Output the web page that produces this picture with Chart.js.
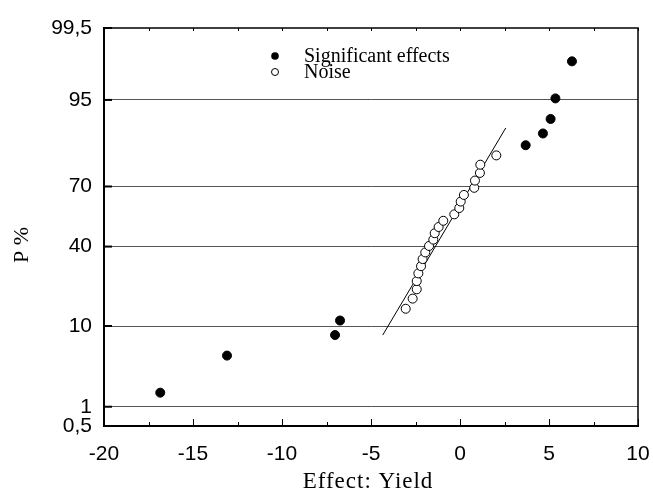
<!DOCTYPE html>
<html>
<head>
<meta charset="utf-8">
<script src="https://cdn.jsdelivr.net/npm/chart.js@4"></script>
<style>
body { margin: 0; background: #fff; }
#wrap { width: 653px; height: 497px; }
</style>
</head>
<body>
<div id="wrap"><canvas id="chart" width="653" height="497"></canvas></div>
<script>
// effects (x = effect, P = cumulative probability %)
var sigX = [-16.84, -13.09, -7.02, -6.74, 3.69, 4.66, 5.09, 5.36, 6.29];
var sigP = [1.6, 4.8, 8.1, 11.3, 85.5, 88.7, 91.9, 95.2, 98.4];
var noiseX = [-3.05, -2.66, -2.43, -2.43, -2.34, -2.19, -2.10, -1.95, -1.74, -1.50, -1.42,
              -1.20, -0.94, -0.32, -0.04, 0.04, 0.22, 0.80, 0.84, 1.12, 1.14, 2.04];
var noiseP = [14.5, 17.7, 21.0, 24.2, 27.4, 30.6, 33.9, 37.1, 40.3, 43.5, 46.8,
              50.0, 53.2, 56.5, 59.7, 62.9, 66.1, 69.4, 72.6, 75.8, 79.0, 82.3];
var lineX = [-4.34, 2.57];
var lineP = [8.1, 90.0];
var yTicks = [0.5, 1, 10, 40, 70, 95, 99.5];
var yTickLabels = ["0,5", "1", "10", "40", "70", "95", "99,5"];
var legendLabels = ["Significant effects", "Noise"];
var xTitle = "Effect: Yield";
var yTitle = "P %";

// inverse normal cdf (Acklam), used for the probability axis
function probit(p) {
    var a = [-39.69683028665376, 220.9460984245205, -275.9285104469687, 138.3577518672690, -30.66479806614716, 2.506628277459239];
    var b = [-54.47609879822406, 161.5858368580409, -155.6989798598866, 66.80131188771972, -13.28068155288572];
    var c = [-0.007784894002430293, -0.3223964580411365, -2.400758277161838, -2.549671348283915, 4.374664141464968, 2.938163982698783];
    var d = [0.007784695709041462, 0.3224671290700398, 2.445134137142996, 3.754408661907416];
    var plow = 0.02425, q, r;
    if (p < plow) {
        q = Math.sqrt(-2 * Math.log(p));
        return (((((c[0] * q + c[1]) * q + c[2]) * q + c[3]) * q + c[4]) * q + c[5]) / ((((d[0] * q + d[1]) * q + d[2]) * q + d[3]) * q + 1);
    }
    if (p <= 1 - plow) {
        q = p - 0.5; r = q * q;
        return (((((a[0] * r + a[1]) * r + a[2]) * r + a[3]) * r + a[4]) * r + a[5]) * q / (((((b[0] * r + b[1]) * r + b[2]) * r + b[3]) * r + b[4]) * r + 1);
    }
    q = Math.sqrt(-2 * Math.log(1 - p));
    return -(((((c[0] * q + c[1]) * q + c[2]) * q + c[3]) * q + c[4]) * q + c[5]) / ((((d[0] * q + d[1]) * q + d[2]) * q + d[3]) * q + 1);
}
function z(pct) { return probit(pct / 100); }
function toPoints(xs, ps) {
    return xs.map(function (x, i) { return { x: x, y: z(ps[i]) }; });
}

var sansFont = "'Liberation Sans', Arial, sans-serif";
var serifFont = "'Liberation Serif', 'Times New Roman', serif";

// frame, inward tick marks, axis titles and the legend box
var decorations = {
    id: "decorations",
    afterDraw: function (chart) {
        var ctx = chart.ctx;
        var area = chart.chartArea;
        var xs = chart.scales.x;
        var ys = chart.scales.y;
        ctx.save();
        ctx.strokeStyle = "#000";
        ctx.lineWidth = 1.5;
        ctx.beginPath();
        ctx.moveTo(area.left, area.top);
        ctx.lineTo(area.right, area.top);
        ctx.lineTo(area.right, area.bottom);
        ctx.stroke();
        ctx.lineWidth = 1;
        for (var v = -20; v <= 10; v += 2.5) {
            var px = Math.round(xs.getPixelForValue(v)) + 0.5;
            var len = (v % 5 === 0) ? 7 : 4;
            ctx.beginPath();
            ctx.moveTo(px, area.bottom);
            ctx.lineTo(px, area.bottom - len);
            ctx.moveTo(px, area.top);
            ctx.lineTo(px, area.top + 3);
            ctx.stroke();
        }
        ctx.lineWidth = 2;
        yTicks.forEach(function (t) {
            var py = ys.getPixelForValue(z(t));
            ctx.beginPath();
            ctx.moveTo(area.left, py);
            ctx.lineTo(area.left + 8, py);
            ctx.stroke();
        });
        ctx.fillStyle = "#000";
        ctx.textBaseline = "middle";
        // legend
        var lx = area.left + 171, ly = area.top + 28;
        ctx.font = "20px " + serifFont;
        ctx.textAlign = "left";
        ctx.beginPath();
        ctx.arc(lx, ly, 3.8, 0, Math.PI * 2);
        ctx.fill();
        ctx.fillText(legendLabels[0], lx + 29, ly + 1);
        ctx.lineWidth = 1;
        ctx.beginPath();
        ctx.arc(lx, ly + 16, 3.5, 0, Math.PI * 2);
        ctx.stroke();
        ctx.fillText(legendLabels[1], lx + 29, ly + 17);
        // axis titles
        ctx.textAlign = "center";
        ctx.font = "23px " + serifFont;
        if ("letterSpacing" in ctx) ctx.letterSpacing = "1px";
        ctx.fillText(xTitle, (area.left + area.right) / 2 - 3, area.bottom + 56);
        if ("letterSpacing" in ctx) ctx.letterSpacing = "0px";
        ctx.font = "22px " + serifFont;
        ctx.translate(22, area.top + 217);
        ctx.rotate(-Math.PI / 2);
        ctx.fillText(yTitle, 0, 0);
        ctx.restore();
    }
};

var chart = new Chart(document.getElementById("chart").getContext("2d"), {
    type: "scatter",
    data: {
        datasets: [
            {
                label: legendLabels[0],
                data: toPoints(sigX, sigP),
                backgroundColor: "#000",
                borderColor: "#000",
                pointRadius: 4.5,
                order: 1
            },
            {
                label: legendLabels[1],
                data: toPoints(noiseX, noiseP),
                backgroundColor: "#fff",
                borderColor: "#000",
                borderWidth: 1,
                pointRadius: 4.5,
                order: 2
            },
            {
                type: "line",
                label: "fit",
                data: toPoints(lineX, lineP),
                borderColor: "#000",
                borderWidth: 1,
                pointRadius: 0,
                fill: false,
                order: 3
            }
        ]
    },
    options: {
        responsive: false,
        animation: false,
        layout: { padding: { left: 0, right: 0, top: 28, bottom: 0 } },
        plugins: {
            legend: { display: false },
            tooltip: { enabled: false }
        },
        scales: {
            x: {
                type: "linear",
                min: -20,
                max: 10,
                afterFit: function (scale) {
                    scale.height = 71;
                    scale.paddingLeft = 0;
                    scale.paddingRight = 15;
                },
                ticks: {
                    stepSize: 5,
                    padding: 8,
                    color: "#000",
                    font: { family: sansFont, size: 21 }
                },
                grid: { display: false },
                border: { display: true, color: "#000", width: 2 }
            },
            y: {
                type: "linear",
                min: z(yTicks[0]),
                max: z(yTicks[yTicks.length - 1]),
                afterFit: function (scale) { scale.width = 104; },
                afterBuildTicks: function (scale) {
                    scale.ticks = yTicks.map(function (t) { return { value: z(t) }; });
                },
                ticks: {
                    autoSkip: false,
                    padding: 12,
                    color: "#000",
                    font: { family: sansFont, size: 21 },
                    callback: function (value, index) { return yTickLabels[index]; }
                },
                grid: {
                    drawTicks: false,
                    lineWidth: 1,
                    color: function (ctx) {
                        return (ctx.index === 0 || ctx.index === yTicks.length - 1) ? "rgba(0,0,0,0)" : "#555";
                    }
                },
                border: { display: true, color: "#000", width: 2 }
            }
        }
    },
    plugins: [decorations]
});
</script>
</body>
</html>
